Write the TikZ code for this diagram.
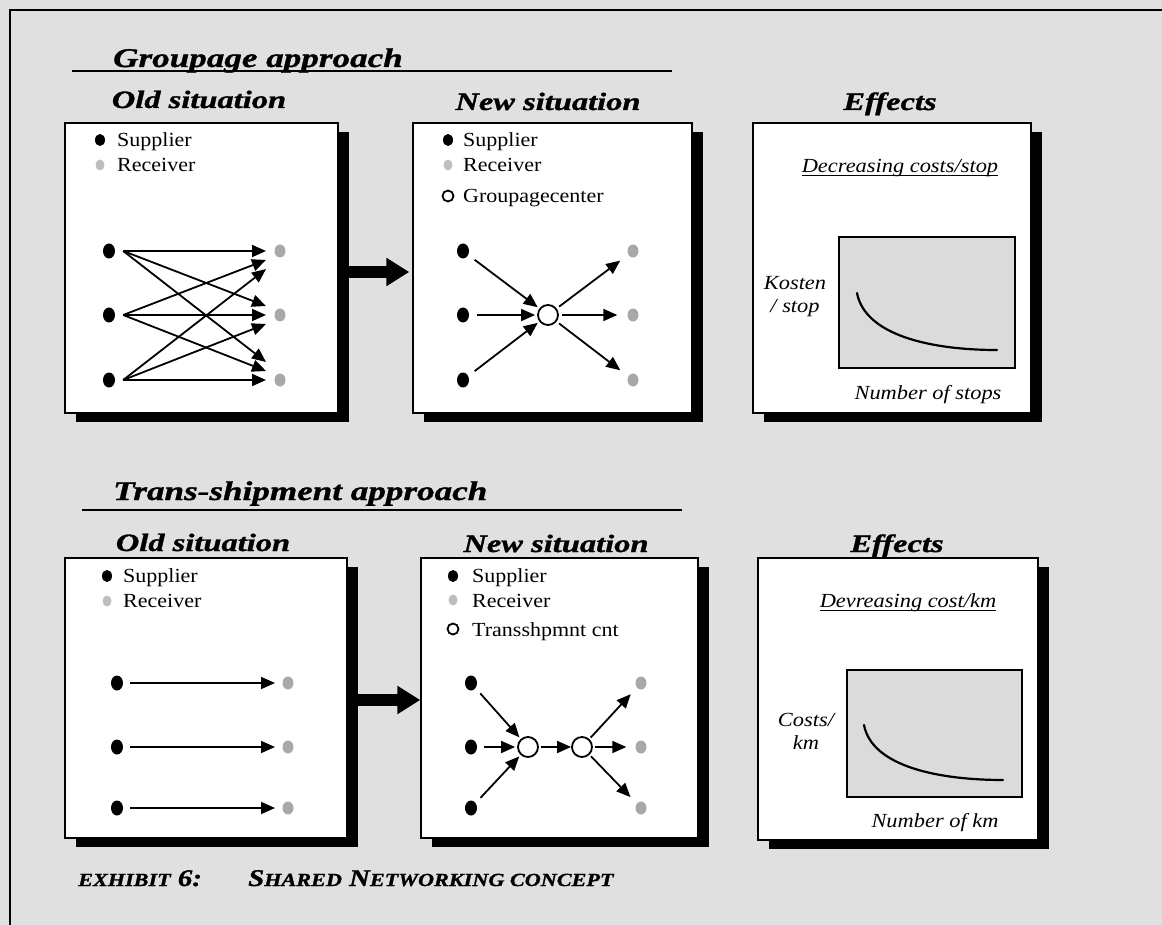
\documentclass[tikz,border=0pt]{standalone}
\usepackage{fontspec}
\setmainfont{Liberation Serif}
\newfontfamily\headfont[FakeStretch=1.3,FakeBold=1.2]{Liberation Serif}
\newfontfamily\keyfont[FakeStretch=1.1]{Liberation Serif}
\newfontfamily\axisfont[FakeStretch=1.12]{Liberation Serif}
\newfontfamily\capfont[FakeStretch=1.2,FakeBold=1.2]{Liberation Serif}
\usetikzlibrary{arrows.meta,shadows,shapes.geometric}

\definecolor{paper}{RGB}{224,224,224}
\definecolor{chartbg}{RGB}{219,219,219}
\definecolor{recv}{RGB}{168,168,168}
\definecolor{recvkey}{RGB}{190,190,190}

% small capitals made from two sizes of the same face
\newcommand\smc[1]{{\fontsize{18.5}{20}\selectfont #1}}

\tikzset{
  panel/.style={draw=black, line width=1.5pt, fill=white,
    drop shadow={shadow xshift=11pt, shadow yshift=-9pt, fill=black, opacity=1}},
  sect/.style={font=\headfont\bfseries\itshape\fontsize{27}{30}\selectfont,
    anchor=base west, inner sep=0pt},
  sub/.style={font=\headfont\bfseries\itshape\fontsize{25}{28}\selectfont,
    anchor=base, inner sep=0pt},
  key/.style={font=\keyfont\fontsize{20}{22}\selectfont, anchor=base west, inner sep=0pt},
  axis/.style={font=\axisfont\itshape\fontsize{20}{23}\selectfont, inner sep=0pt, align=center},
  capt/.style={font=\capfont\bfseries\itshape\fontsize{24}{26}\selectfont,
    anchor=base west, inner sep=0pt},
  supnode/.style={shape=ellipse, fill=black, minimum width=12pt, minimum height=15pt, inner sep=0pt},
  recnode/.style={shape=ellipse, fill=recv, minimum width=11pt, minimum height=13pt, inner sep=0pt},
  supkey/.style={shape=ellipse, fill=black, minimum width=10pt, minimum height=12pt, inner sep=0pt},
  reckey/.style={shape=ellipse, fill=recvkey, minimum width=9pt, minimum height=11pt, inner sep=0pt},
  hubkey/.style={circle, draw=black, line width=1.8pt, minimum size=11pt, inner sep=0pt},
  hubnode/.style={circle, draw=black, line width=1.8pt, fill=white, minimum size=20pt, inner sep=0pt},
  flow/.style={line width=1.8pt, -{Triangle[length=14pt,width=12pt]}},
  bigarrow/.style={line width=12pt, -{Triangle[length=23pt,width=27pt]}},
  chart/.style={draw=black, line width=1.6pt, fill=chartbg},
  curve/.style={line width=2.2pt, line cap=round},
  rule/.style={line width=1.5pt},
}

\begin{document}
\begin{tikzpicture}[x=1pt, y=-1pt]
\useasboundingbox (0,0) rectangle (1162,925);
\fill[paper] (0,0) rectangle (1162,925);
\draw[line width=1.6pt] (10,925) -- (10,10) -- (1162,10);

% ---------------- Groupage approach ----------------
\node[sect] (gtitle) at (113,67) {Groupage approach};
\coordinate (gl) at (72,71);
\coordinate (gr) at (672,71);
\draw[rule] (gl) -- (gr);

\node[sub] (gold) at (199,108) {Old situation};
\node[sub] (gnew) at (548,110) {New situation};
\node[sub] (geff) at (890,110) {Effects};

\node[panel, minimum width=273pt, minimum height=290pt] (old1) at (201.5,268) {};
\node[panel, minimum width=279pt, minimum height=290pt] (new1) at (552.5,268) {};
\node[panel, minimum width=278pt, minimum height=290pt] (eff1) at (892,268) {};

% legend, old situation
\node[supkey] (k1s) at (100,140) {};
\node[key] (k1st) at (117,147) {Supplier};
\node[reckey] (k1r) at (100,165) {};
\node[key] (k1rt) at (117,172) {Receiver};

% all suppliers to all receivers
\foreach \i/\y in {1/251,2/315,3/380} {
  \node[supnode] (os\i) at (109,\y) {};
  \node[recnode] (or\i) at (280,\y) {};
}
\foreach \i in {1,2,3} {
  \foreach \j in {1,2,3} {
    \pgfmathsetmacro\dy{(\j-\i)*9}
    \draw[flow] ([xshift=8pt]os\i.east) -- ([xshift=-14pt,yshift=\dy pt]or\j.center);
  }
}

\draw[bigarrow, shorten >=3pt] ([yshift=-4pt]old1.east) -- ([yshift=-4pt]new1.west);

% legend, new situation
\node[supkey] (k2s) at (448,140) {};
\node[key] (k2st) at (463,147) {Supplier};
\node[reckey] (k2r) at (448,165) {};
\node[key] (k2rt) at (463,172) {Receiver};
\node[hubkey] (k2h) at (448,196) {};
\node[key] (k2ht) at (463,203) {Groupagecenter};

% suppliers via the groupage center to the receivers
\node[hubnode] (hub1) at (548,315) {};
\foreach \i/\y in {1/251,2/315,3/380} {
  \node[supnode] (ns\i) at (463,\y) {};
  \node[recnode] (nr\i) at (633,\y) {};
  \draw[flow, shorten <=8pt, shorten >=2pt] (ns\i) -- (hub1);
  \draw[flow, shorten <=3pt, shorten >=10pt] (hub1) -- (nr\i);
}

% effects, costs per stop
\node[axis] (dec1) at (900,168) {Decreasing costs/stop};
\draw[line width=1pt] ([yshift=-3pt]dec1.base west) -- ([yshift=-3pt]dec1.base east);
\node[chart, minimum width=176pt, minimum height=131pt] (chart1) at (927,302.5) {};
\draw[curve] (857,293) .. controls (865,335) and (930,350) .. (997,350);
\node[axis] (yl1) at (795,297) {Kosten\\/ stop};
\node[axis] (xl1) at (928,395) {Number of stops};

% ---------------- Trans-shipment approach ----------------
\node[sect] (ttitle) at (113,500) {Trans-shipment approach};
\coordinate (tl) at (82,510);
\coordinate (tr) at (682,510);
\draw[rule] (tl) -- (tr);

\node[sub] (told) at (203,551) {Old situation};
\node[sub] (tnew) at (556,552) {New situation};
\node[sub] (teff) at (897,552) {Effects};

\node[panel, minimum width=282pt, minimum height=280pt] (old2) at (206,698) {};
\node[panel, minimum width=277pt, minimum height=280pt] (new2) at (559.5,698) {};
\node[panel, minimum width=280pt, minimum height=282pt] (eff2) at (898,699) {};

% legend, old situation
\node[supkey] (k3s) at (107,576) {};
\node[key] (k3st) at (123,582) {Supplier};
\node[reckey] (k3r) at (107,601) {};
\node[key] (k3rt) at (123,607) {Receiver};

% each supplier straight to its receiver
\foreach \i/\y in {1/683,2/747,3/808} {
  \node[supnode] (ps\i) at (117,\y) {};
  \node[recnode] (pr\i) at (288,\y) {};
  \draw[flow] ([xshift=7pt]ps\i.east) -- ([xshift=-13pt]pr\i.center);
}

\draw[bigarrow] ([yshift=-2pt]old2.east) -- ([yshift=-2pt]new2.west);

% legend, new situation
\node[supkey] (k4s) at (453,576) {};
\node[key] (k4st) at (472,582) {Supplier};
\node[reckey] (k4r) at (453,600) {};
\node[key] (k4rt) at (472,607) {Receiver};
\node[hubkey] (k4h) at (453,629) {};
\node[key] (k4ht) at (472,636) {Transshpmnt cnt};

% suppliers via two trans-shipment centres to the receivers
\node[hubnode] (hubA) at (528,747) {};
\node[hubnode] (hubB) at (582,747) {};
\draw[flow, shorten <=2pt] (hubA) -- (hubB);
\foreach \i/\y in {1/683,2/747,3/808} {
  \node[supnode] (qs\i) at (471,\y) {};
  \node[recnode] (qr\i) at (641,\y) {};
  \draw[flow, shorten <=7pt, shorten >=2pt] (qs\i) -- (hubA);
  \draw[flow, shorten <=2pt, shorten >=9pt] (hubB) -- (qr\i);
}

% effects, costs per km
\node[axis] (dec2) at (908,603) {Devreasing cost/km};
\draw[line width=1pt] ([yshift=-3pt]dec2.base west) -- ([yshift=-3pt]dec2.base east);
\node[chart, minimum width=175pt, minimum height=127pt] (chart2) at (934.5,733.5) {};
\draw[curve] (864,725) .. controls (872,767) and (940,780) .. (1003,780);
\node[axis] (yl2) at (806,731) {Costs/\\km};
\node[axis] (xl2) at (935,823) {Number of km};

% ---------------- caption ----------------
\node[capt] (exh) at (78,886) {\smc{EXHIBIT} 6:};
\node[capt] (ctitle) at (248,886) {S\smc{HARED} N\smc{ETWORKING CONCEPT}};
\end{tikzpicture}
\end{document}
